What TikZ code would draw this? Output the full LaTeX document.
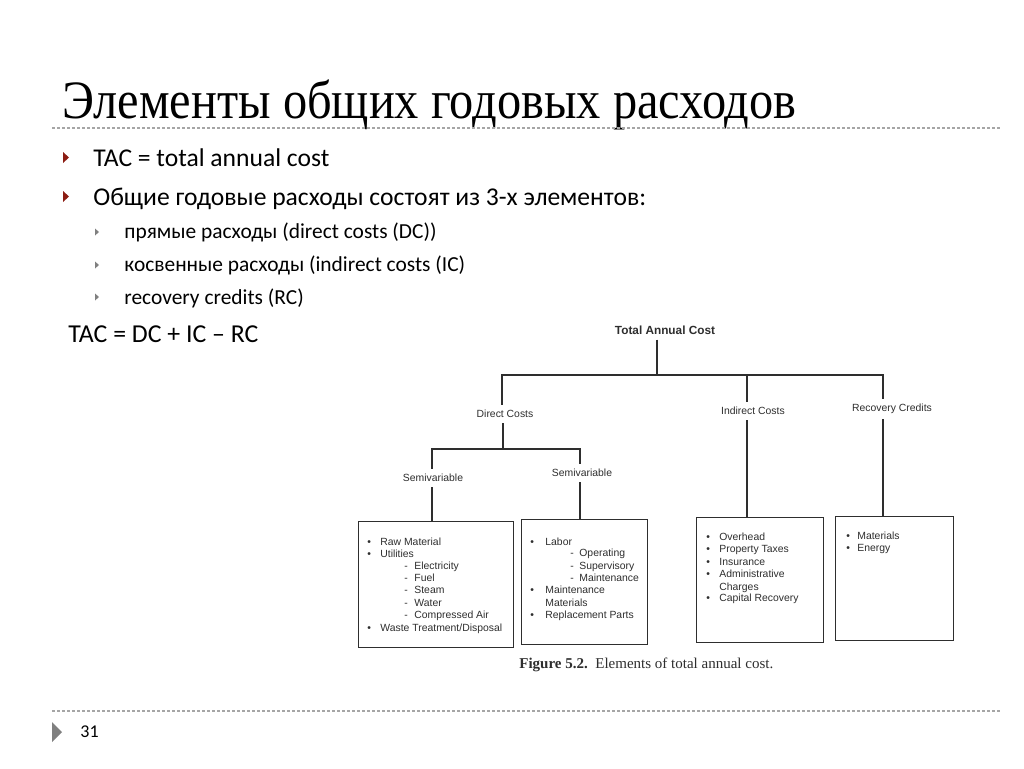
\documentclass[tikz,border=0pt]{standalone}
\usepackage{fontspec}
\setmainfont{Carlito}
\newfontfamily\titlefont{Liberation Serif}
\newfontfamily\figfont{Liberation Sans}
\newfontfamily\capfont{Liberation Serif}
\definecolor{bulletred}{HTML}{8C1C13}
\definecolor{rulegray}{HTML}{A6A6A6}
\definecolor{scan}{HTML}{2E2E2E}
\tikzset{
    slidetext/.style = {
        anchor    = base west,
        inner sep = 0pt,
    },
    lbl/.style = {
        font      = \figfont\fontsize{5.2}{6}\selectfont,
        text      = scan,
        inner sep = 2.5pt,
    },
    boxtext/.style = {
        anchor    = base west,
        inner sep = 0pt,
        text      = scan,
        font      = \figfont\fontsize{5.2}{6}\selectfont,
    },
    costbox/.style = {
        draw      = scan,
        line width = 0.5pt,
        inner sep = 0pt,
        outer sep = 0pt,
    },
    tree/.style = {draw=scan, line width=0.55pt},
    seprule/.style = {draw=rulegray, line width=0.6pt, dash pattern=on 1.5pt off 1pt},
}

\begin{document}
\begin{tikzpicture}[x=0.5pt,y=-0.5pt]
  \useasboundingbox[fill=white] (0,0) rectangle (1024,768);

  % Titulo
  \node[slidetext, font=\titlefont\fontsize{27}{30}\selectfont] (Titulo) at (62,118)
    {\scalebox{0.896}[1]{Элементы общих годовых расходов}};
  \draw[seprule] (52,128) -- (1000,128);

  % Marcadores
  \fill[bulletred] (63,152) -- (69,157.5) -- (63,163) -- cycle;
  \fill[bulletred] (63,191) -- (69,196.5) -- (63,202) -- cycle;
  \foreach \y in {232,265,297}
    \fill[gray] (95,\y-3.5) -- (99,\y) -- (95,\y+3.5) -- cycle;

  \node[slidetext, font=\fontsize{12.8}{14}\selectfont] (TacDef) at (93,166) {TAC = total annual cost};
  \node[slidetext, font=\fontsize{12.8}{14}\selectfont] (Elem) at (93,205) {Общие годовые расходы состоят из 3-х элементов:};
  \node[slidetext, font=\fontsize{10.7}{12}\selectfont] (Pryam) at (124,238) {прямые расходы (direct costs (DC))};
  \node[slidetext, font=\fontsize{10.7}{12}\selectfont] (Kosv) at (124,271) {косвенные расходы (indirect costs (IC)};
  \node[slidetext, font=\fontsize{10.7}{12}\selectfont] (Recov) at (124,304) {recovery credits (RC)};
  \node[slidetext, font=\fontsize{12.9}{14}\selectfont] (Formula) at (68,342) {TAC = DC + IC -- RC};

  % Arvore
  \node[lbl, font=\figfont\bfseries\fontsize{5.9}{7}\selectfont] (TAC) at (665,330) {Total Annual Cost};
  \node[lbl] (DC) at (505,414) {Direct Costs};
  \node[lbl] (IC) at (753,411) {Indirect Costs};
  \node[lbl] (RC) at (892,409) {Recovery Credits};
  \node[lbl] (SemiA) at (433,478) {Semivariable};
  \node[lbl] (SemiB) at (582,473) {Semivariable};

  \node[costbox, minimum width=77.5pt, minimum height=63pt] (BoxA) at (435.5,584) {};
  \node[costbox, minimum width=63pt, minimum height=62.5pt] (BoxB) at (584,581.5) {};
  \node[costbox, minimum width=63.5pt, minimum height=62.5pt] (BoxC) at (759.5,579.5) {};
  \node[costbox, minimum width=59pt, minimum height=62pt] (BoxD) at (894,578) {};

  \coordinate (Juncao) at (657,375);
  \coordinate (colDC) at (502,375);
  \coordinate (colIC) at (747,375);
  \coordinate (colRC) at (883,375);
  \coordinate (JuncaoDC) at (503,449);
  \coordinate (colA) at (432,449);
  \coordinate (colB) at (580,449);

  \draw[tree] (TAC.south -| Juncao) -- (Juncao);
  \draw[tree] (colDC |- DC.north) -- (colDC) -- (colRC) -- (colRC |- RC.north);
  \draw[tree] (colIC) -- (colIC |- IC.north);
  \draw[tree] (colIC |- IC.south) -- (colIC |- BoxC.north);
  \draw[tree] (colRC |- RC.south) -- (colRC |- BoxD.north);
  \draw[tree] (DC.south -| JuncaoDC) -- (JuncaoDC);
  \draw[tree] (colA |- SemiA.north) -- (colA) -- (colB) -- (colB |- SemiB.north);
  \draw[tree] (colA |- SemiA.south) -- (colA |- BoxA.north);
  \draw[tree] (colB |- SemiB.south) -- (colB |- BoxB.north);

  % Caixa A
  \foreach \y/\t in {541/Raw Material,553/Utilities,627/{Waste Treatment/Disposal}}{
    \node[boxtext] at (367,\y+4) {•};
    \node[boxtext] at (380,\y+4) {\t};
  }
  \foreach \y/\t in {565/Electricity,577/Fuel,589/Steam,602/Water,614/Compressed Air}{
    \node[boxtext] at (404,\y+4) {-};
    \node[boxtext] at (414,\y+4) {\t};
  }

  % Caixa B
  \foreach \y/\t in {541/Labor,589/Maintenance,614/Replacement Parts}{
    \node[boxtext] at (530,\y+4) {•};
    \node[boxtext] at (545,\y+4) {\t};
  }
  \node[boxtext] at (545,606) {Materials};
  \foreach \y/\t in {552/Operating,565/Supervisory,577/Maintenance}{
    \node[boxtext] at (570,\y+4) {-};
    \node[boxtext] at (579,\y+4) {\t};
  }

  % Caixa C
  \foreach \y/\t in {536/Overhead,548/Property Taxes,561/Insurance,573/Administrative,597/Capital Recovery}{
    \node[boxtext] at (706,\y+4) {•};
    \node[boxtext] at (719,\y+4) {\t};
  }
  \node[boxtext] at (719,590) {Charges};

  % Caixa D
  \foreach \y/\t in {535/Materials,547/Energy}{
    \node[boxtext] at (846,\y+4) {•};
    \node[boxtext] at (857,\y+4) {\t};
  }

  \node[slidetext, text=scan, font=\capfont\fontsize{7.5}{9}\selectfont] (Legenda) at (519,668)
    {\textbf{Figure 5.2.}\ \ Elements of total annual cost.};

  % Rodape
  \draw[seprule] (52,711) -- (1000,711);
  \fill[gray] (52,722) -- (62,732) -- (52,742) -- cycle;
  \node[slidetext, font=\fontsize{9}{11}\selectfont] (Pagina) at (80,737) {31};

\end{tikzpicture}
\end{document}
